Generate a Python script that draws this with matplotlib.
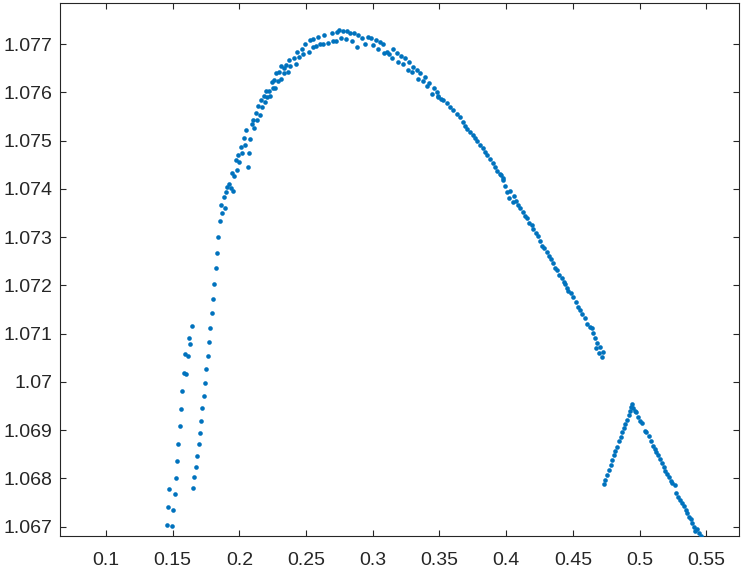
import matplotlib
matplotlib.use("Agg")
import matplotlib.pyplot as plt

# ---------------- data ----------------
left_x = [0.1456, 0.1495, 0.1466, 0.1505, 0.1473, 0.1518, 0.1523, 0.1533, 0.1542, 0.1553,
          0.1563, 0.1572, 0.1585, 0.1602, 0.1595, 0.1612, 0.1632, 0.1622, 0.1642]
left_y = [1.06703, 1.06701, 1.06740, 1.06734, 1.06778, 1.06768, 1.06801, 1.06836, 1.06871, 1.06908,
          1.06944, 1.06982, 1.07019, 1.07016, 1.07058, 1.07054, 1.07078, 1.07091, 1.07116]

rise_x = [0.1654, 0.1662, 0.1675, 0.1685, 0.1696, 0.1705, 0.1713, 0.1722, 0.1735, 0.1743,
          0.1752, 0.1763, 0.1772, 0.1782, 0.1793, 0.1802, 0.1812, 0.1825, 0.1832, 0.1842,
          0.1852, 0.1862, 0.1872, 0.1882, 0.1892, 0.1901, 0.1909, 0.1924, 0.1937, 0.1951]
rise_y = [1.06780, 1.06802, 1.06824, 1.06847, 1.06871, 1.06895, 1.06919, 1.06945, 1.06971, 1.06998,
          1.07026, 1.07054, 1.07083, 1.07112, 1.07142, 1.07172, 1.07203, 1.07235, 1.07268, 1.07300,
          1.07333, 1.07366, 1.07350, 1.07383, 1.07361, 1.07393, 1.07403, 1.07410, 1.07401, 1.07396]

top_x = [0.1944, 0.1961, 0.1979, 0.1974, 0.1998, 0.1991, 0.2021, 0.2061, 0.2071, 0.2009,
         0.2039, 0.2031, 0.2080, 0.2051, 0.2093, 0.2112, 0.2103, 0.2132, 0.2125, 0.2155,
         0.2142, 0.2172, 0.2160, 0.2190, 0.2182, 0.2209, 0.2229, 0.2202, 0.2222, 0.2250,
         0.2269, 0.2244, 0.2262, 0.2289, 0.2312, 0.2276, 0.2297, 0.2334, 0.2362, 0.2312,
         0.2336, 0.2349, 0.2381, 0.2421, 0.2371, 0.2408, 0.2446, 0.2478, 0.2429, 0.2466,
         0.2520, 0.2492, 0.2552, 0.2572, 0.2530, 0.2555, 0.2604, 0.2629, 0.2592, 0.2634,
         0.2666, 0.2699, 0.2724, 0.2692, 0.2729, 0.2748, 0.2761, 0.2774, 0.2804, 0.2798,
         0.2828, 0.2841, 0.2858, 0.2878, 0.2890, 0.2922, 0.2942, 0.2967, 0.2987, 0.3004,
         0.3024, 0.3041, 0.3054, 0.3079, 0.3084, 0.3109, 0.3123, 0.3141, 0.3149, 0.3179,
         0.3191, 0.3211, 0.3228, 0.3241, 0.3261, 0.3273, 0.3291, 0.3303, 0.3330, 0.3337,
         0.3354, 0.3375, 0.3392, 0.3404, 0.3422, 0.3446, 0.3459, 0.3479, 0.3491]
top_y = [1.07433, 1.07427, 1.07439, 1.07459, 1.07456, 1.07471, 1.07474, 1.07445, 1.07474, 1.07487,
         1.07490, 1.07505, 1.07503, 1.07522, 1.07534, 1.07527, 1.07543, 1.07543, 1.07557, 1.07553,
         1.07572, 1.07569, 1.07583, 1.07580, 1.07592, 1.07591, 1.07592, 1.07603, 1.07603, 1.07608,
         1.07609, 1.07621, 1.07625, 1.07623, 1.07627, 1.07639, 1.07641, 1.07640, 1.07641, 1.07654,
         1.07650, 1.07656, 1.07654, 1.07659, 1.07667, 1.07670, 1.07674, 1.07679, 1.07684, 1.07690,
         1.07683, 1.07700, 1.07694, 1.07696, 1.07708, 1.07710, 1.07701, 1.07701, 1.07715, 1.07719,
         1.07703, 1.07706, 1.07706, 1.07722, 1.07724, 1.07728, 1.07712, 1.07726, 1.07726, 1.07710,
         1.07722, 1.07707, 1.07723, 1.07694, 1.07719, 1.07712, 1.07699, 1.07715, 1.07712, 1.07698,
         1.07708, 1.07690, 1.07705, 1.07700, 1.07681, 1.07684, 1.07679, 1.07670, 1.07689, 1.07681,
         1.07662, 1.07675, 1.07658, 1.07670, 1.07646, 1.07663, 1.07641, 1.07653, 1.07646, 1.07627,
         1.07639, 1.07623, 1.07631, 1.07612, 1.07620, 1.07596, 1.07609, 1.07601, 1.07590]

fall_x = [0.3486, 0.3509, 0.3528, 0.3554, 0.3578, 0.3603, 0.3628, 0.3653, 0.3673, 0.3690,
          0.3708, 0.3729, 0.3750, 0.3767, 0.3784, 0.3804, 0.3824, 0.3841, 0.3859, 0.3879,
          0.3899, 0.3916, 0.3933, 0.3953, 0.3973, 0.3961, 0.3978, 0.3991, 0.4008, 0.4028,
          0.4023, 0.4048, 0.4058, 0.4070, 0.4090, 0.4102, 0.4124, 0.4141, 0.4153, 0.4173,
          0.4191, 0.4203, 0.4221, 0.4236, 0.4253, 0.4270, 0.4285, 0.4303, 0.4320, 0.4335,
          0.4352, 0.4365, 0.4382, 0.4397, 0.4415, 0.4432, 0.4444, 0.4459, 0.4464, 0.4484,
          0.4503, 0.4521, 0.4540, 0.4553, 0.4570, 0.4590, 0.4607, 0.4628, 0.4640, 0.4652,
          0.4665, 0.4682, 0.4702, 0.4672, 0.4695, 0.4722, 0.4715]
fall_y = [1.07592, 1.07587, 1.07583, 1.07577, 1.07570, 1.07563, 1.07556, 1.07548, 1.07539, 1.07531,
          1.07523, 1.07518, 1.07511, 1.07505, 1.07500, 1.07491, 1.07484, 1.07477, 1.07470, 1.07461,
          1.07453, 1.07446, 1.07437, 1.07431, 1.07422, 1.07429, 1.07418, 1.07406, 1.07394, 1.07396,
          1.07382, 1.07373, 1.07385, 1.07375, 1.07366, 1.07360, 1.07353, 1.07344, 1.07339, 1.07330,
          1.07325, 1.07316, 1.07309, 1.07302, 1.07292, 1.07281, 1.07277, 1.07270, 1.07261, 1.07254,
          1.07246, 1.07236, 1.07232, 1.07221, 1.07215, 1.07207, 1.07203, 1.07194, 1.07188, 1.07185,
          1.07175, 1.07166, 1.07156, 1.07150, 1.07141, 1.07132, 1.07121, 1.07113, 1.07111, 1.07101,
          1.07090, 1.07081, 1.07072, 1.07071, 1.07060, 1.07061, 1.07051]

tail_x = [0.4730, 0.4742, 0.4757, 0.4769, 0.4782, 0.4794, 0.4807, 0.4819, 0.4831, 0.4844,
          0.4857, 0.4869, 0.4881, 0.4894, 0.4904, 0.4918, 0.4926, 0.4933, 0.4943, 0.4950,
          0.4963, 0.4975, 0.4988, 0.5000, 0.5018, 0.5038, 0.5050, 0.5068, 0.5082, 0.5100,
          0.5112, 0.5124, 0.5137, 0.5150, 0.5167, 0.5182, 0.5194, 0.5206, 0.5219, 0.5232,
          0.5244, 0.5262, 0.5273, 0.5291, 0.5306, 0.5319, 0.5332, 0.5345, 0.5357, 0.5369,
          0.5382, 0.5394, 0.5406, 0.5419, 0.5429, 0.5442, 0.5457]
tail_y = [1.06788, 1.06797, 1.06808, 1.06818, 1.06828, 1.06839, 1.06848, 1.06857, 1.06866, 1.06877,
          1.06886, 1.06896, 1.06904, 1.06913, 1.06922, 1.06932, 1.06940, 1.06949, 1.06954, 1.06946,
          1.06940, 1.06938, 1.06927, 1.06919, 1.06915, 1.06899, 1.06896, 1.06887, 1.06878, 1.06868,
          1.06861, 1.06855, 1.06848, 1.06840, 1.06832, 1.06823, 1.06816, 1.06809, 1.06802, 1.06795,
          1.06790, 1.06786, 1.06770, 1.06761, 1.06756, 1.06749, 1.06742, 1.06735, 1.06728, 1.06721,
          1.06716, 1.06708, 1.06699, 1.06692, 1.06696, 1.06687, 1.06681]

x_ticks = [0.1, 0.15, 0.2, 0.25, 0.3, 0.35, 0.4, 0.45, 0.5, 0.55]
x_tick_labels = ["0.1", "0.15", "0.2", "0.25", "0.3", "0.35", "0.4", "0.45", "0.5", "0.55"]
y_ticks = [1.067, 1.068, 1.069, 1.070, 1.071, 1.072, 1.073, 1.074, 1.075, 1.076, 1.077]
y_tick_labels = ["1.067", "1.068", "1.069", "1.07", "1.071", "1.072", "1.073",
                 "1.074", "1.075", "1.076", "1.077"]

# ---------------- styling ----------------
plt.rcParams['font.family'] = ['Liberation Sans', 'DejaVu Sans']
dot_color = '#0072BD'
axis_color = '#262626'

fig = plt.figure(figsize=(7.41, 5.70), dpi=100)
ax = fig.add_axes([60.3 / 741, 1 - 535.7 / 570, (738.7 - 60.3) / 741, (535.7 - 2.5) / 570])

for xs, ys in [(left_x, left_y), (rise_x, rise_y), (top_x, top_y),
               (fall_x, fall_y), (tail_x, tail_y)]:
    ax.scatter(xs, ys, s=11, marker='o', color=dot_color, linewidths=0, zorder=3)

ax.set_xlim(0.06574, 0.57429)
ax.set_ylim(1.066814, 1.077860)
ax.set_xticks(x_ticks)
ax.set_xticklabels(x_tick_labels)
ax.set_yticks(y_ticks)
ax.set_yticklabels(y_tick_labels)

for sp in ax.spines.values():
    sp.set_color(axis_color)
    sp.set_linewidth(0.8)

ax.tick_params(axis='both', which='both', direction='in', length=4.5, width=0.8,
               color=axis_color, labelcolor=axis_color, labelsize=14,
               top=True, right=True)
ax.tick_params(axis='x', pad=12)
ax.tick_params(axis='y', pad=5.5)

fig.savefig('out.png', dpi=100)
